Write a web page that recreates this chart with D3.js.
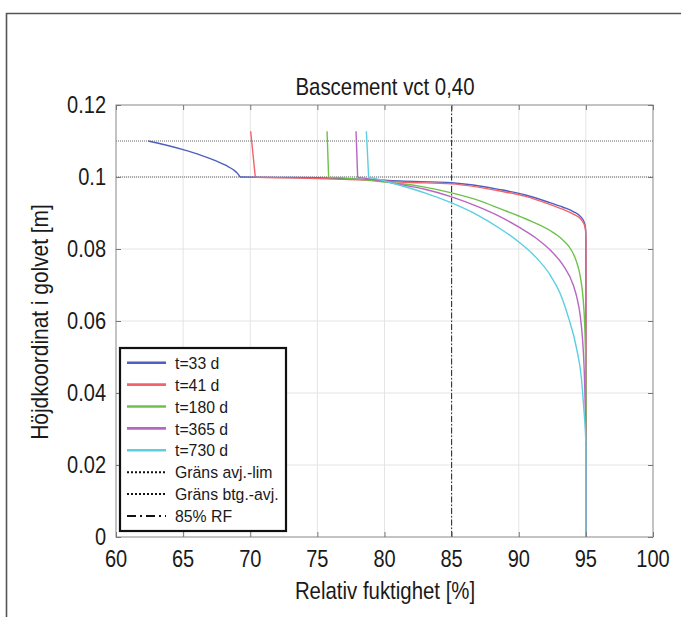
<!DOCTYPE html>
<html>
<head>
<meta charset="utf-8">
<script src="https://cdn.jsdelivr.net/npm/d3@7"></script>
<style>
  html, body { margin: 0; padding: 0; background: #fff; }
  svg { display: block; }
  text { font-family: 'Liberation Sans', Arial, sans-serif; fill: #1a1a1a; }
</style>
</head>
<body>
<svg id="chart" width="681" height="617"></svg>
<script>
// ---------------- data ----------------
const title = "Bascement vct 0,40";
const xLabel = "Relativ fuktighet [%]";
const yLabel = "Höjdkoordinat i golvet [m]";

const xTicks = [60, 65, 70, 75, 80, 85, 90, 95, 100];
const xTickLabels = ["60", "65", "70", "75", "80", "85", "90", "95", "100"];
const yTicks = [0, 0.02, 0.04, 0.06, 0.08, 0.1, 0.12];
const yTickLabels = ["0", "0.02", "0.04", "0.06", "0.08", "0.1", "0.12"];

const seriesNames = ["t=33 d", "t=41 d", "t=180 d", "t=365 d", "t=730 d"];
const seriesColors = ["#4f5fbf", "#f2636b", "#6cc24a", "#b866c4", "#5bcfe0"];

const rh33 = [62.4, 63.7, 65.0, 66.3, 67.5, 68.2, 68.75, 69.05, 69.25, 72, 75, 78, 80, 81.15, 85, 88.6, 90.5, 92.3, 93.3, 94.06, 94.68, 94.9, 94.98, 95, 95];
const h33  = [0.1100, 0.1089, 0.1076, 0.1061, 0.1044, 0.1032, 0.1020, 0.1010, 0.1000, 0.0999, 0.0998, 0.0994, 0.0991, 0.0989, 0.0984, 0.0965, 0.0950, 0.0929, 0.0916, 0.0904, 0.0887, 0.0872, 0.0855, 0.083, 0];

const rh41 = [70.03, 70.38, 72, 75, 78, 80, 81.15, 85, 88.6, 90.5, 92.3, 93.3, 94.06, 94.68, 94.9, 94.98, 95, 95];
const h41  = [0.1127, 0.0999, 0.0998, 0.0996, 0.0992, 0.0989, 0.0986, 0.0981, 0.0961, 0.0946, 0.0924, 0.0910, 0.0897, 0.0880, 0.0866, 0.0850, 0.082, 0];

const rh180 = [75.72, 75.84, 77, 78, 79, 80, 81.15, 83, 85, 87, 88.6, 90.5, 92.3, 93.2, 93.9, 94.3, 94.6, 94.8, 94.9, 94.96, 94.99, 95, 95];
const h180  = [0.1127, 0.0999, 0.0997, 0.0994, 0.0990, 0.0986, 0.0982, 0.0972, 0.0956, 0.0935, 0.0912, 0.0884, 0.0852, 0.0828, 0.0798, 0.0765, 0.0720, 0.0660, 0.0600, 0.0530, 0.0460, 0.040, 0];

const rh365 = [77.88, 78.0, 79, 80, 81.15, 83, 85, 87, 88.6, 90.05, 91.3, 92.4, 93.3, 94.06, 94.35, 94.56, 94.75, 94.88, 94.95, 94.99, 95, 95];
const h365  = [0.1127, 0.0999, 0.0994, 0.0988, 0.0979, 0.0966, 0.0945, 0.0917, 0.0890, 0.0860, 0.0830, 0.0795, 0.0755, 0.0700, 0.0662, 0.0620, 0.0550, 0.0460, 0.036, 0.027, 0.020, 0];

const rh730 = [78.65, 78.82, 79.5, 80, 81.15, 83, 85, 87, 88.6, 90.05, 91.2, 92.3, 93.1, 93.7, 94.3, 94.68, 94.76, 94.9, 94.97, 95, 95];
const h730  = [0.1127, 0.0999, 0.0994, 0.0989, 0.0977, 0.0956, 0.0928, 0.0893, 0.0857, 0.0818, 0.0780, 0.0730, 0.0675, 0.0610, 0.0525, 0.0436, 0.0400, 0.0330, 0.0290, 0.026, 0];

const seriesRH = [rh33, rh41, rh180, rh365, rh730];
const seriesH  = [h33, h41, h180, h365, h730];

const limitNames = ["Gräns avj.-lim", "Gräns btg.-avj."];
const limitLevels = [0.1, 0.11];
const rfName = "85% RF";
const rfLimit = 85;

// ---------------- layout ----------------
const svg = d3.select("#chart");
const plot = { left: 116, right: 653, top: 105, bottom: 537 };

const x = d3.scaleLinear().domain([60, 100]).range([plot.left, plot.right]);
const y = d3.scaleLinear().domain([0, 0.12]).range([plot.bottom, plot.top]);

// condensed text helper
function ctext(parent, tx, ty, str, size, sx, anchor, dy, rot) {
  const t = parent.append("text")
    .attr("transform", `translate(${tx},${ty})${rot ? ` rotate(${rot})` : ""} scale(${sx},1)`)
    .attr("text-anchor", anchor || "start")
    .style("font-size", size + "px")
    .text(str);
  if (dy) t.attr("dy", dy);
  return t;
}

// outer frame (left + top visible)
svg.append("path")
  .attr("d", `M6.5,617 L6.5,13.5 L681,13.5`)
  .attr("fill", "none").attr("stroke", "#555").attr("stroke-width", 1.6);

// grid
const g = svg.append("g");
g.selectAll(".vgrid").data(xTicks.slice(1, -1)).enter().append("line")
  .attr("x1", d => x(d)).attr("x2", d => x(d))
  .attr("y1", plot.top).attr("y2", plot.bottom)
  .attr("stroke", "#e4e4e4").attr("stroke-width", 1);
g.selectAll(".hgrid").data(yTicks.slice(1, -1)).enter().append("line")
  .attr("y1", d => y(d)).attr("y2", d => y(d))
  .attr("x1", plot.left).attr("x2", plot.right)
  .attr("stroke", "#e4e4e4").attr("stroke-width", 1);

// limit lines (dotted)
g.selectAll(".limit").data(limitLevels).enter().append("line")
  .attr("y1", d => y(d)).attr("y2", d => y(d))
  .attr("x1", plot.left).attr("x2", plot.right)
  .attr("stroke", "#666").attr("stroke-width", 1)
  .attr("stroke-dasharray", "1,1");

// 85% RF dash-dot
g.append("line")
  .attr("x1", x(rfLimit)).attr("x2", x(rfLimit))
  .attr("y1", plot.bottom).attr("y2", plot.top)
  .attr("stroke", "#222").attr("stroke-width", 1)
  .attr("stroke-dasharray", "6,2,1.5,2");

// series: top part and main part with monotone-x smoothing, final vertical drop linear
const smooth = d3.line().curve(d3.curveMonotoneX);
const straight = d3.line();
seriesRH.forEach((rh, i) => {
  const hs = seriesH[i];
  const pts = rh.map((v, j) => [x(v), y(hs[j])]);
  const k = hs.findIndex(h => h <= 0.1);            // corner at the 0.1 level
  const maxRH = d3.max(rh);
  const m = rh.findIndex(v => v === maxRH);          // start of vertical drop
  const segs = [
    { p: pts.slice(0, k + 1), gen: smooth },
    { p: pts.slice(k, m + 1), gen: smooth },
    { p: pts.slice(m), gen: straight }
  ];
  segs.forEach(s => {
    if (s.p.length < 2) return;
    svg.append("path")
      .attr("d", s.gen(s.p))
      .attr("fill", "none")
      .attr("stroke", seriesColors[i])
      .attr("stroke-width", 1.4)
      .attr("stroke-linejoin", "round");
  });
});

// axes box
svg.append("rect")
  .attr("x", plot.left).attr("y", plot.top)
  .attr("width", plot.right - plot.left).attr("height", plot.bottom - plot.top)
  .attr("fill", "none").attr("stroke", "#888").attr("stroke-width", 1);

// inward ticks via d3 axes
const tickLen = 5;
const axB = svg.append("g").attr("transform", `translate(0,${plot.bottom})`)
  .call(d3.axisTop(x).tickValues(xTicks).tickSize(tickLen).tickFormat(""));
const axT = svg.append("g").attr("transform", `translate(0,${plot.top})`)
  .call(d3.axisBottom(x).tickValues(xTicks).tickSize(tickLen).tickFormat(""));
const axL = svg.append("g").attr("transform", `translate(${plot.left},0)`)
  .call(d3.axisRight(y).tickValues(yTicks).tickSize(tickLen).tickFormat(""));
const axR = svg.append("g").attr("transform", `translate(${plot.right},0)`)
  .call(d3.axisLeft(y).tickValues(yTicks).tickSize(tickLen).tickFormat(""));
[axB, axT, axL, axR].forEach(a => {
  a.select(".domain").remove();
  a.selectAll(".tick line").attr("stroke", "#777");
});

// tick labels
const xl = svg.append("g");
xTicks.forEach((d, i) => ctext(xl, x(d), 567, xTickLabels[i], 23, 0.87, "middle"));
const yl = svg.append("g");
yTicks.forEach((d, i) => ctext(yl, 106, y(d), yTickLabels[i], 23, 0.87, "end", "0.36em"));

// title and axis labels
ctext(svg, 385, 95, title, 24, 0.85, "middle");
ctext(svg, 385, 599, xLabel, 24, 0.85, "middle");
ctext(svg, 48, 322, yLabel, 24, 0.87, "middle", null, -90);

// legend
const leg = svg.append("g");
leg.append("rect")
  .attr("x", 120).attr("y", 348).attr("width", 166).attr("height", 183)
  .attr("fill", "#fff").attr("stroke", "#111").attr("stroke-width", 2.2);
const legItems = seriesNames.map((n, i) => ({ name: n, color: seriesColors[i], dash: null, w: 2.6 }))
  .concat(limitNames.map(n => ({ name: n, color: "#111", dash: "2,2", w: 2 })))
  .concat([{ name: rfName, color: "#111", dash: "9,4,2,4", w: 2 }]);
legItems.forEach((it, i) => {
  const cy = 362.7 + i * 21.9;
  leg.append("line")
    .attr("x1", 127).attr("x2", 166).attr("y1", cy).attr("y2", cy)
    .attr("stroke", it.color).attr("stroke-width", it.w)
    .attr("stroke-dasharray", it.dash);
  ctext(leg, 175, cy, it.name, 17, 0.93, "start", "0.36em");
});
</script>
</body>
</html>
